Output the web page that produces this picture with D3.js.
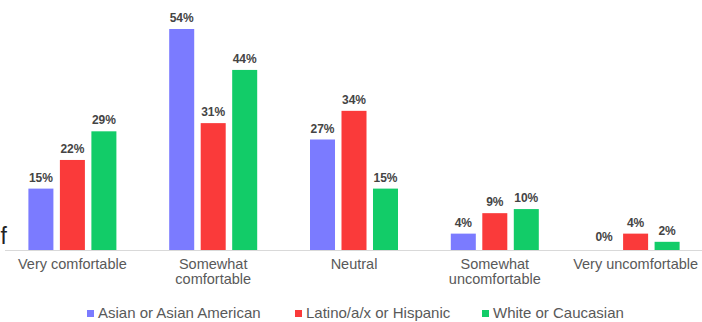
<!DOCTYPE html>
<html><head><meta charset="utf-8">
<script src="https://cdn.jsdelivr.net/npm/d3@7"></script>
<style>body{margin:0;background:#fff}svg{display:block}</style>
</head><body>
<svg id="c" width="702" height="322"></svg>
<script>
const categories = [["Very comfortable"],["Somewhat","comfortable"],["Neutral"],["Somewhat","uncomfortable"],["Very uncomfortable"]];
const seriesNames = ["Asian or Asian American","Latino/a/x or Hispanic","White or Caucasian"];
const asian = [15,54,27,4,0];
const latino = [22,31,34,9,4];
const white = [29,44,15,10,2];
const colors = ["#7b7bff","#fa3a3a","#12cc68"];
const series = [asian, latino, white];

const svg = d3.select("#c");
const x0 = d3.scaleBand().domain(d3.range(categories.length)).range([2,706]).paddingInner(0).paddingOuter(0);
const x1 = d3.scaleBand().domain(d3.range(3)).range([x0.bandwidth()/2-44, x0.bandwidth()/2+44]).paddingInner(0.206).paddingOuter(0);
const y = d3.scaleLinear().domain([0,54]).range([250,29]);

// stray text fragment at left edge
svg.append("text").attr("x",7).attr("y",244).attr("text-anchor","end")
  .attr("font-family","Liberation Sans, Arial, sans-serif").attr("font-size",23).attr("fill","#222").text("f");

const g = svg.append("g");
categories.forEach((c,i)=>{
  series.forEach((s,j)=>{
    const v = s[i];
    const bx = x0(i)+x1(j);
    if (v>0) g.append("rect").attr("x",bx).attr("y",y(v)).attr("width",x1.bandwidth()).attr("height",y(0)-y(v)).attr("fill",colors[j]);
    g.append("text").attr("x",bx+x1.bandwidth()/2).attr("y",y(v)-(v>0?7:9))
      .attr("text-anchor","middle").attr("font-family","Liberation Sans, Arial, sans-serif")
      .attr("font-weight","bold").attr("font-size",12).attr("fill","#444").text(v+"%");
  });
});

// axis line
svg.append("line").attr("x1",5).attr("x2",702).attr("y1",y(0)+0.5).attr("y2",y(0)+0.5).attr("stroke","#d9d9d9").attr("stroke-width",1);

// category labels
categories.forEach((c,i)=>{
  const t = svg.append("text").attr("text-anchor","middle").attr("font-family","Liberation Sans, Arial, sans-serif")
    .attr("font-size",14.5).attr("fill","#595959");
  c.forEach((line,k)=>{
    t.append("tspan").attr("x",x0(i)+x0.bandwidth()/2).attr("y",268.5+k*15.5).text(line);
  });
});

// legend
const legX = [87,295,482];
seriesNames.forEach((n,j)=>{
  svg.append("rect").attr("x",legX[j]).attr("y",310).attr("width",7).attr("height",7).attr("fill",colors[j]);
  svg.append("text").attr("x",legX[j]+11).attr("y",318).attr("font-family","Liberation Sans, Arial, sans-serif")
    .attr("font-size",15).attr("fill","#595959").text(n);
});
</script>
</body></html>
